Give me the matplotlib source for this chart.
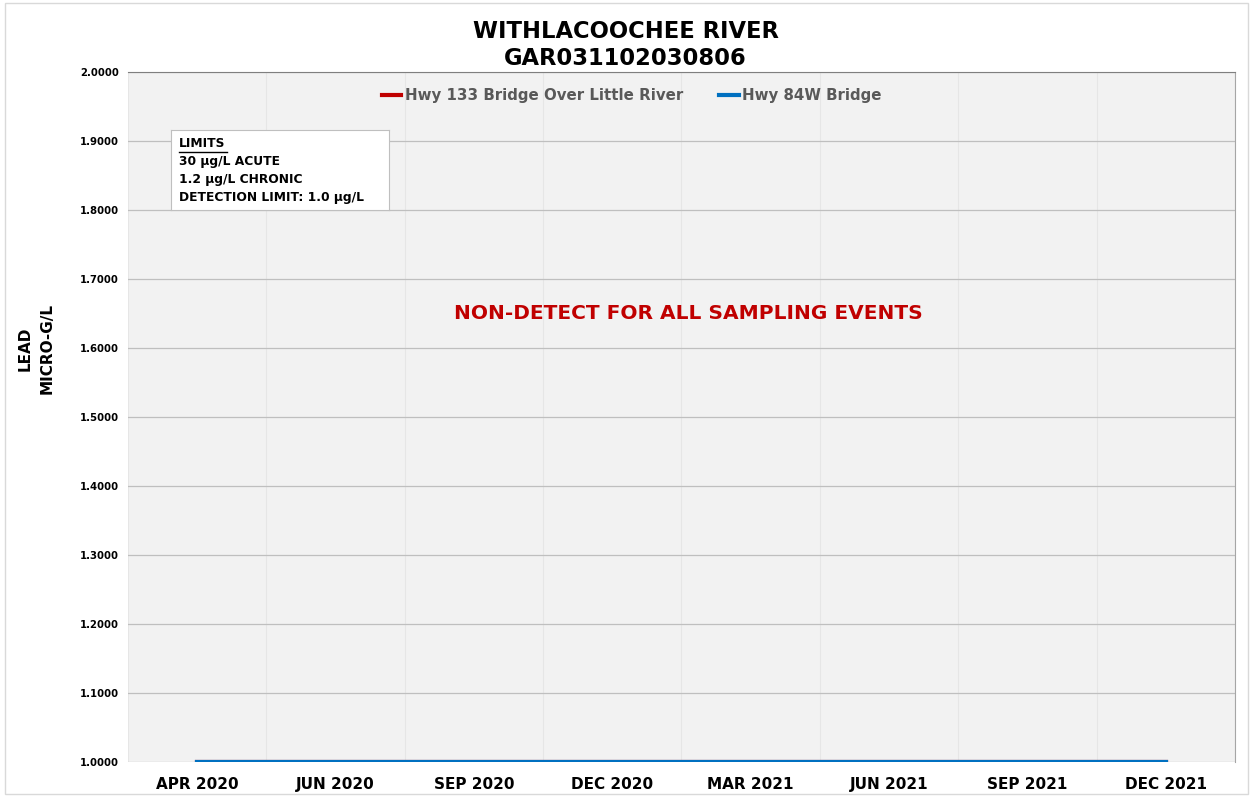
import matplotlib.pyplot as plt
import numpy as np
from matplotlib.patches import Rectangle

plt.rcParams['font.family'] = ['DejaVu Sans']

# data
months = ['APR 2020', 'JUN 2020', 'SEP 2020', 'DEC 2020',
          'MAR 2021', 'JUN 2021', 'SEP 2021', 'DEC 2021']
hwy133 = [1.0, 1.0, 1.0, 1.0, 1.0, 1.0, 1.0, 1.0]
hwy84w = [1.0, 1.0, 1.0, 1.0, 1.0, 1.0, 1.0, 1.0]
yticks = [1.0, 1.1, 1.2, 1.3, 1.4, 1.5, 1.6, 1.7, 1.8, 1.9, 2.0]

fig = plt.figure(figsize=(12.51, 7.96), dpi=100)
fig.patch.set_facecolor('white')
fig.add_artist(Rectangle((0.004, 0.002), 0.994, 0.994, transform=fig.transFigure,
                         fill=False, edgecolor='#D9D9D9', linewidth=1))

ax = fig.add_axes([0.1023, 0.0427, 0.8849, 0.8668])
ax.set_facecolor('#F2F2F2')

x = np.arange(len(months))
ax.plot(x, hwy133, color='#C00000', linewidth=3, label='Hwy 133 Bridge Over Little River')
ax.plot(x, hwy84w, color='#0070C0', linewidth=3, label='Hwy 84W Bridge')

ax.set_xlim(-0.5, len(months) - 0.5)
ax.set_ylim(1.0, 2.0)
ax.set_yticks(yticks)
ax.set_yticklabels([f'{v:.4f}' for v in yticks], fontsize=7.3, fontweight='bold')
ax.set_xticks(x)
ax.set_xticklabels(months, fontsize=11, fontweight='bold')
ax.set_xticks(np.arange(len(months) + 1) - 0.5, minor=True)
ax.tick_params(axis='both', which='both', length=0)
ax.tick_params(axis='x', pad=11)
ax.tick_params(axis='y', pad=6.5)

ax.grid(axis='y', which='major', color='#BFBFBF', linewidth=0.9)
ax.grid(axis='x', which='minor', color='#E6E6E6', linewidth=0.8)
ax.set_axisbelow(True)

ax.spines['left'].set_visible(False)
ax.spines['top'].set_color('#7F7F7F')
ax.spines['right'].set_color('#A6A6A6')
ax.spines['bottom'].set_visible(False)

leg = ax.legend(loc='upper center', bbox_to_anchor=(0.505, 0.906),
                bbox_transform=fig.transFigure, ncol=2, frameon=False,
                handlelength=1.3, handletextpad=0.25, columnspacing=2.4,
                prop={'weight': 'bold', 'size': 10.8})
for t in leg.get_texts():
    t.set_color('#595959')

fig.text(0.5, 0.961, 'WITHLACOOCHEE RIVER', ha='center', va='center',
         fontsize=16.3, fontweight='bold')
fig.text(0.5, 0.927, 'GAR031102030806', ha='center', va='center',
         fontsize=16.3, fontweight='bold')

fig.text(0.020, 0.562, 'LEAD', rotation=90, ha='center', va='center',
         fontsize=11, fontweight='bold')
fig.text(0.038, 0.562, 'MICRO-G/L', rotation=90, ha='center', va='center',
         fontsize=11, fontweight='bold')

# limits box
box_ax = fig.add_axes([171 / 1251, 1 - 210 / 796, 218 / 1251, 80 / 796])
box_ax.set_xticks([])
box_ax.set_yticks([])
box_ax.set_facecolor('white')
for s in box_ax.spines.values():
    s.set_color('#BFBFBF')
box_ax.text(0.035, 0.83, 'LIMITS', fontsize=8.8, fontweight='bold', va='center')
box_ax.plot([0.035, 0.255], [0.72, 0.72], color='black', linewidth=1,
            transform=box_ax.transAxes)
box_ax.text(0.035, 0.60, '30 µg/L ACUTE', fontsize=8.8, fontweight='bold', va='center')
box_ax.text(0.035, 0.38, '1.2 µg/L CHRONIC', fontsize=8.8, fontweight='bold', va='center')
box_ax.text(0.035, 0.16, 'DETECTION LIMIT: 1.0 µg/L', fontsize=8.8, fontweight='bold', va='center')
box_ax.set_xlim(0, 1)
box_ax.set_ylim(0, 1)

ax.text(0.506, 0.650, 'NON-DETECT FOR ALL SAMPLING EVENTS', transform=ax.transAxes,
        ha='center', va='center', fontsize=14.5, fontweight='bold', color='#C00000')

fig.savefig('out.png', dpi=100)
